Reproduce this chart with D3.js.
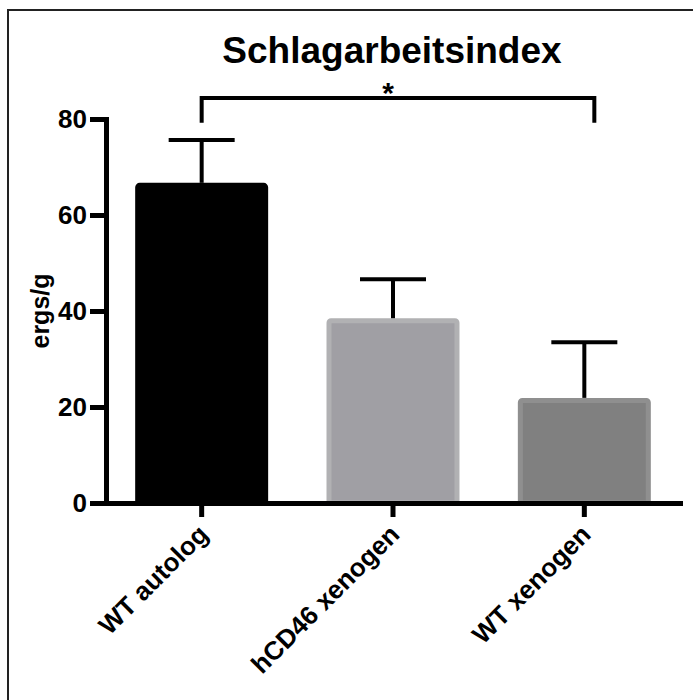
<!DOCTYPE html>
<html>
<head>
<meta charset="utf-8">
<script src="https://cdn.jsdelivr.net/npm/d3@7"></script>
<style>
  body { margin: 0; background: #fff; }
  svg { display: block; font-family: "Liberation Sans", Arial, sans-serif; font-weight: bold; }
</style>
</head>
<body>
<div id="chart"></div>
<script>
// Schlagarbeitsindex - bar chart with SEM error bars

const groups = ["WT autolog", "hCD46 xenogen", "WT xenogen"];
const means = [66.7, 38.5, 21.9];
const errors = [8.9, 8.1, 11.6];
const yTicks = [0, 20, 40, 60, 80];
const sigPair = ["WT autolog", "WT xenogen"];
const sigLabel = "*";

const fills = ["#000000", "#a09fa4", "#808080"];
const borders = ["#000000", "#b1b1b3", "#8f8f8f"];

const width = 693;
const height = 700;

const svg = d3.select("#chart")
    .append("svg")
    .attr("width", width)
    .attr("height", height);

// frame (only top + left edges visible in the crop)
svg.append("path")
    .attr("d", `M8,${height} L8,10 L${width},10`)
    .attr("fill", "none")
    .attr("stroke", "#222")
    .attr("stroke-width", 2);

const xScale = d3.scaleBand()
    .domain(groups)
    .range([106, 680])
    .paddingInner(0.305)
    .paddingOuter(0.1525);

const yScale = d3.scaleLinear()
    .domain([0, 80])
    .range([503, 119]);

// title
svg.append("text")
    .attr("x", 392)
    .attr("y", 63)
    .attr("text-anchor", "middle")
    .style("font-size", "37px")
    .text("Schlagarbeitsindex");

// bars
const bw = xScale.bandwidth();
svg.append("g")
    .selectAll("rect")
    .data(groups)
    .join("rect")
    .attr("x", d => xScale(d) + 2.5)
    .attr("y", (d, i) => yScale(means[i]) + 2.5)
    .attr("width", bw - 5)
    .attr("height", (d, i) => yScale(0) - yScale(means[i]) - 2.5)
    .attr("rx", 2)
    .attr("fill", (d, i) => fills[i])
    .attr("stroke", (d, i) => borders[i])
    .attr("stroke-width", 5);

// error bars (upper only)
const capHalf = 33;
const err = svg.append("g")
    .attr("stroke", "#000")
    .attr("stroke-width", 4);

groups.forEach((g, i) => {
    const cx = xScale(g) + bw / 2;
    err.append("line")
        .attr("x1", cx).attr("x2", cx)
        .attr("y1", yScale(means[i]))
        .attr("y2", yScale(means[i] + errors[i]));
    err.append("line")
        .attr("x1", cx - capHalf).attr("x2", cx + capHalf)
        .attr("y1", yScale(means[i] + errors[i]))
        .attr("y2", yScale(means[i] + errors[i]));
});

// axes
const yAxis = d3.axisLeft(yScale)
    .tickValues(yTicks)
    .tickSize(16)
    .tickSizeOuter(0)
    .tickPadding(3);

const gy = svg.append("g")
    .attr("transform", "translate(106,0)")
    .call(yAxis);

const xAxis = d3.axisBottom(xScale)
    .tickSize(14)
    .tickSizeOuter(0);

const gx = svg.append("g")
    .attr("transform", `translate(0,${yScale(0)})`)
    .call(xAxis);

[gx, gy].forEach(g => {
    g.select(".domain").attr("stroke-width", 5).attr("stroke-linecap", "square");
    g.selectAll(".tick line").attr("stroke-width", 5);
    g.selectAll("text").attr("fill", "#000").style("font-size", "26px")
        .style("font-family", "'Liberation Sans', Arial, sans-serif")
        .style("font-weight", "bold");
});

gx.selectAll(".tick text")
    .attr("x", 0)
    .attr("y", 0)
    .attr("dy", 0)
    .attr("text-anchor", "end")
    .attr("transform", "translate(8,33) rotate(-45)");

// y axis title
svg.append("text")
    .attr("transform", "translate(49,311) rotate(-90)")
    .attr("text-anchor", "middle")
    .style("font-size", "25px")
    .text("ergs/g");

// significance bracket
const bx1 = xScale(sigPair[0]) + bw / 2;
const bx2 = xScale(sigPair[1]) + bw / 2 + 10;
const bTop = yScale(84.4);
const bLeg = yScale(79.2);
svg.append("path")
    .attr("d", `M${bx1},${bLeg} L${bx1},${bTop} L${bx2},${bTop} L${bx2},${bLeg}`)
    .attr("fill", "none")
    .attr("stroke", "#000")
    .attr("stroke-width", 4);

svg.append("text")
    .attr("x", 388)
    .attr("y", 103)
    .attr("text-anchor", "middle")
    .style("font-size", "30px")
    .text(sigLabel);
</script>
</body>
</html>
